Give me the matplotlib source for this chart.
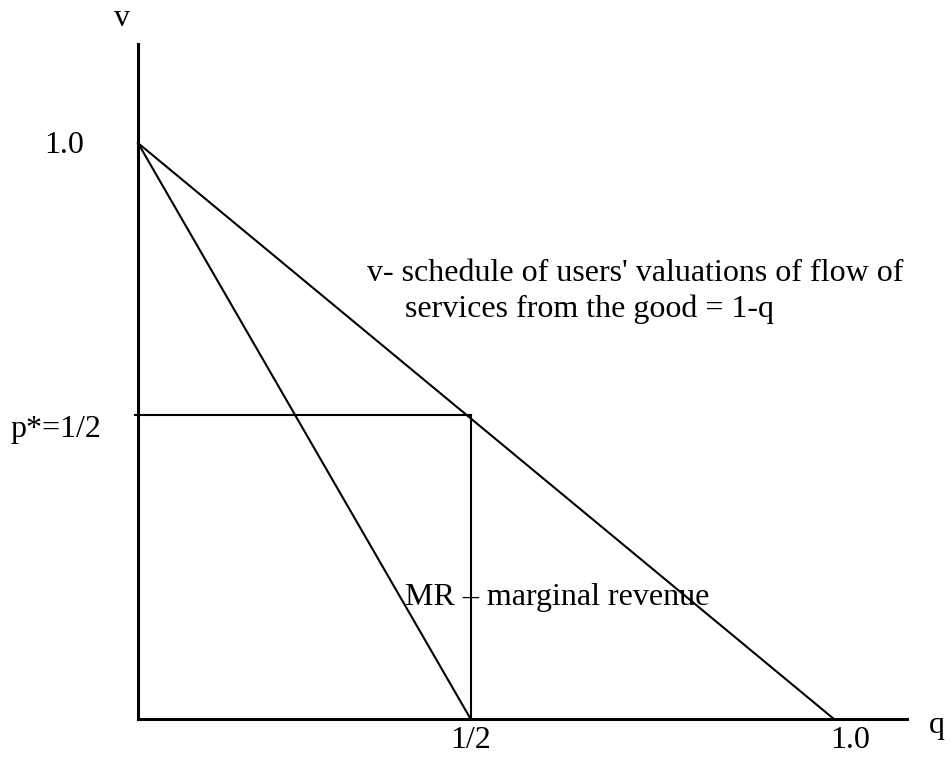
import matplotlib
matplotlib.use('Agg')
import matplotlib.pyplot as plt

# ---------------------------------------------------------------------------
# Values (q on the x axis, v on the y axis)
# ---------------------------------------------------------------------------
demand_q = [0.0, 1.0]          # v = 1 - q
demand_v = [1.0, 0.0]
mr_q = [0.0, 0.478]            # marginal revenue
mr_v = [1.0, 0.0]
q_star = 0.478
p_star = 0.528

x_ticks = [q_star, 1.023]
x_tick_labels = ['1/2', '1.0']
y_ticks = [1.0, p_star]
y_tick_labels = ['1.0', 'p*=1/2']

FONT = 'Liberation Serif'
FS = 23

fig = plt.figure(figsize=(9.52, 7.59), dpi=100)
# origin at (138, 719) px, q=1 at 834 px, v=1 at 143 px
ax = fig.add_axes([138 / 952, (759 - 719) / 759, (907 - 138) / 952, (719 - 44) / 759])
ax.set_xlim(0, 1.105)
ax.set_ylim(0, 1.172)
for side in ['top', 'right']:
    ax.spines[side].set_visible(False)
for side in ['left', 'bottom']:
    ax.spines[side].set_linewidth(2.2)
ax.set_xticks([])
ax.set_yticks([])
ax.patch.set_alpha(0)

ax.plot(demand_q, demand_v, color='black', linewidth=1.5, clip_on=False)
ax.plot(mr_q, mr_v, color='black', linewidth=1.5, clip_on=False)
ax.plot([-0.005, q_star], [p_star, p_star], color='black', linewidth=1.5, clip_on=False)
ax.plot([q_star, q_star], [0, p_star], color='black', linewidth=1.5, clip_on=False)

# tick labels
for q, lab in zip(x_ticks, x_tick_labels):
    ax.text(q, -0.050, lab, ha='center', va='baseline', fontsize=FS, family=FONT, clip_on=False)
ax.text(-0.078, y_ticks[0] - 0.017, y_tick_labels[0], ha='right', va='baseline', fontsize=FS, family=FONT)
ax.text(-0.052, y_ticks[1] - 0.038, y_tick_labels[1], ha='right', va='baseline', fontsize=FS, family=FONT)

# axis names
ax.text(-0.023, 1.203, 'v', ha='center', va='baseline', fontsize=FS, family=FONT, clip_on=False)
ax.text(1.148, -0.024, 'q', ha='center', va='baseline', fontsize=FS, family=FONT, clip_on=False)

# annotations
ax.text(0.329, 0.760, "v- schedule of users' valuations of flow of", ha='left', va='baseline',
        fontsize=FS, family=FONT)
ax.text(0.384, 0.698, 'services from the good = 1-q', ha='left', va='baseline',
        fontsize=FS, family=FONT)
ax.text(0.383, 0.198, 'MR \u2013 marginal revenue', ha='left', va='baseline',
        fontsize=FS, family=FONT)

fig.savefig('out.png', dpi=100)
